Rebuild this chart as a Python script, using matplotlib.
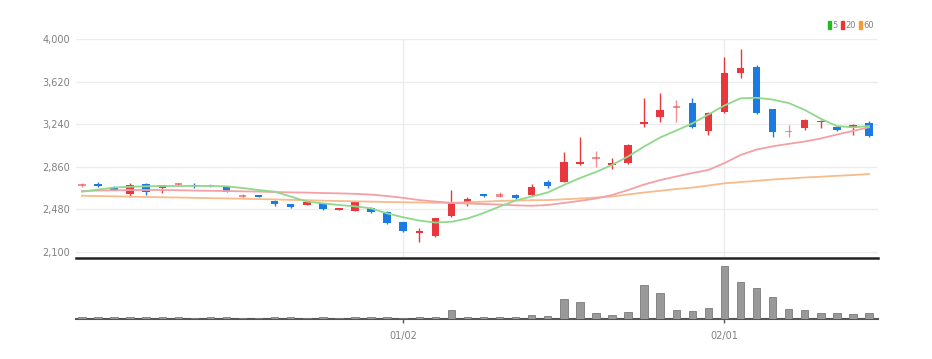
import numpy as np
import matplotlib
matplotlib.use("Agg")
import matplotlib.pyplot as plt

plt.rcParams['font.family'] = ['Liberation Sans Narrow', 'DejaVu Sans Condensed', 'DejaVu Sans']

# daily OHLC (price), volume, moving averages
opens = [2688, 2706, 2672, 2616, 2706, 2667, 2694, 2697, 2697, 2682,
         2589, 2601, 2556, 2524, 2518, 2533, 2476, 2464, 2494, 2458,
         2366, 2270, 2240, 2419, 2533, 2616, 2592, 2607, 2607, 2726,
         2726, 2885, 2927, 2878, 2896, 3242, 3308, 3383, 3433, 3182,
         3352, 3696, 3755, 3373, 3171, 3204, 3260, 3218, 3204, 3249]
highs = [2712, 2720, 2690, 2712, 2712, 2700, 2718, 2715, 2705, 2685,
         2615, 2606, 2560, 2527, 2550, 2536, 2486, 2550, 2500, 2462,
         2370, 2309, 2405, 2652, 2586, 2618, 2635, 2612, 2705, 2740,
         2989, 3129, 3001, 2935, 3065, 3472, 3522, 3457, 3472, 3350,
         3839, 3911, 3770, 3380, 3233, 3285, 3280, 3225, 3240, 3270]
lows = [2680, 2675, 2650, 2592, 2607, 2622, 2690, 2670, 2680, 2630,
        2580, 2590, 2505, 2495, 2515, 2475, 2470, 2460, 2448, 2350,
        2280, 2190, 2235, 2415, 2505, 2590, 2588, 2574, 2600, 2668,
        2720, 2880, 2860, 2837, 2885, 3213, 3263, 3263, 3205, 3144,
        3340, 3651, 3330, 3129, 3129, 3190, 3204, 3180, 3144, 3122]
closes = [2703, 2688, 2652, 2697, 2637, 2697, 2712, 2688, 2685, 2637,
          2607, 2592, 2524, 2500, 2547, 2482, 2482, 2547, 2452, 2357,
          2288, 2280, 2399, 2533, 2569, 2601, 2616, 2578, 2676, 2688,
          2905, 2905, 2950, 2896, 3054, 3263, 3368, 3404, 3213, 3344,
          3696, 3741, 3344, 3173, 3182, 3278, 3272, 3189, 3233, 3135]
volumes = [34000, 40000, 34000, 50000, 34000, 34000, 40000, 26000, 40000, 40000,
           26000, 26000, 40000, 40000, 26000, 40000, 26000, 40000, 46000, 34000,
           26000, 46000, 50000, 180000, 40000, 40000, 40000, 40000, 74000, 54000,
           400000, 340000, 114000, 74000, 140000, 680000, 514000, 186000, 154000, 214000,
           1066000, 734000, 614000, 434000, 206000, 174000, 120000, 126000, 94000, 120000]
ma5 = [2637, 2656, 2674, 2681, 2685, 2688, 2688, 2688, 2688, 2685,
       2670, 2652, 2637, 2594, 2549, 2533, 2518, 2506, 2488, 2443,
       2408, 2379, 2361, 2368, 2397, 2446, 2504, 2558, 2594, 2630,
       2697, 2759, 2813, 2876, 2952, 3041, 3122, 3184, 3247, 3327,
       3408, 3472, 3477, 3461, 3430, 3368, 3289, 3224, 3213, 3224]
ma20 = [2643, 2647, 2649, 2652, 2652, 2652, 2650, 2647, 2645, 2643,
        2640, 2638, 2634, 2631, 2629, 2625, 2622, 2618, 2611, 2598,
        2582, 2562, 2549, 2537, 2531, 2527, 2522, 2515, 2511, 2518,
        2536, 2555, 2576, 2607, 2652, 2701, 2741, 2773, 2804, 2831,
        2893, 2965, 3014, 3043, 3065, 3086, 3113, 3148, 3180, 3213]
ma60 = [2601, 2598, 2596, 2593, 2590, 2587, 2585, 2582, 2579, 2577,
        2574, 2571, 2568, 2564, 2561, 2557, 2554, 2551, 2548, 2545,
        2543, 2540, 2538, 2538, 2542, 2548, 2554, 2558, 2561, 2562,
        2569, 2576, 2585, 2594, 2612, 2630, 2645, 2661, 2674, 2692,
        2712, 2723, 2734, 2746, 2755, 2764, 2771, 2779, 2786, 2795]
date_ticks = [20, 40]
date_labels = ["01/02", "02/01"]
price_ticks = [2100, 2480, 2860, 3240, 3620, 4000]

faded = {0, 6, 8, 10, 26, 32, 37, 44}  # thin candles drawn paler

RED = "#e8383d"
BLUE = "#1a7be3"
GRAY_TXT = "#808080"

fig = plt.figure(figsize=(9.32, 3.59), dpi=100)
ax = fig.add_axes([76 / 932, 101 / 359, 802 / 932, 218.7 / 359])
axv = fig.add_axes([76 / 932, 40 / 359, 802 / 932, 57 / 359])

x = np.arange(len(opens))
o = np.array(opens)
c = np.array(closes)
up = c >= o
colors = [RED if u else BLUE for u in up]
bottoms = np.minimum(o, c)
heights = np.maximum(np.abs(c - o), 12)

for i in x:
    a = 0.55 if i in faded else 1.0
    ax.vlines(i, lows[i], highs[i], color=colors[i], lw=1, alpha=a, zorder=3)
    ax.bar(i, heights[i], bottom=bottoms[i], width=0.46, color=colors[i],
           alpha=a, linewidth=0, zorder=3)

ax.plot(x, ma60, color="#f7bb8c", lw=1.3, zorder=4)
ax.plot(x, ma20, color="#f3a0a6", lw=1.3, zorder=4)
ax.plot(x, ma5, color="#8fd88c", lw=1.3, zorder=4)

ax.set_xlim(-0.37, 49.56)
ax.set_ylim(2044, 4000)
ax.set_yticks(price_ticks)
ax.set_yticklabels([f"{v:,}" for v in price_ticks])
ax.set_xticks(date_ticks)
ax.set_xticklabels([])
ax.tick_params(axis="y", length=0, pad=4, labelsize=7, labelcolor=GRAY_TXT)
ax.tick_params(axis="x", length=0)
ax.grid(True, color="#ececec", lw=1)
ax.set_axisbelow(True)
for s in ["top", "left", "right"]:
    ax.spines[s].set_visible(False)
ax.spines["bottom"].set_color("#222222")
ax.spines["bottom"].set_linewidth(1.8)

axv.bar(x, volumes, width=0.46, color="#999999", edgecolor="#7a7a7a", lw=0.6, zorder=3)
axv.set_xlim(-0.37, 49.56)
axv.set_ylim(0, 1066000 * 57 / 53.3)
axv.set_yticks([])
axv.set_xticks(date_ticks)
axv.set_xticklabels(date_labels)
axv.tick_params(axis="x", length=3, width=1, color="#555555", pad=6,
                labelsize=7, labelcolor=GRAY_TXT)
for s in ["top", "left", "right"]:
    axv.spines[s].set_visible(False)
axv.spines["bottom"].set_color("#555555")
axv.spines["bottom"].set_linewidth(1.5)

# legend: small colour bar + label
ly = 1 - 25 / 359
legend_items = [("5", "#22bb22", 828), ("20", "#ee3333", 841), ("60", "#f39c33", 859)]
for lab, col, px in legend_items:
    fig.patches.append(plt.Rectangle((px / 932, ly - 3.5 / 359), 3 / 932, 7 / 359,
                                     transform=fig.transFigure, color=col, figure=fig))
    fig.text((px + 4) / 932, ly, lab, color=GRAY_TXT, fontsize=6, va="center", ha="left")

fig.savefig("out.png", dpi=100)
